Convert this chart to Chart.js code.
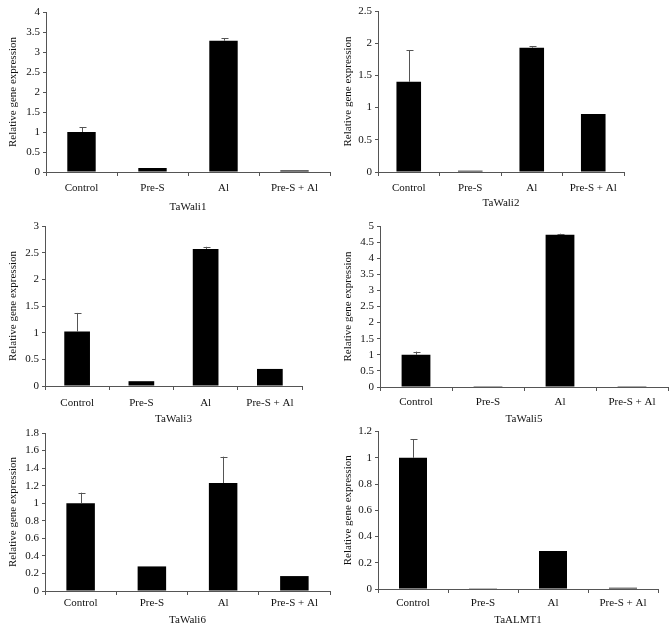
<!DOCTYPE html>
<html lang="en">
<head>
  <meta charset="UTF-8">
  <title>Relative gene expression</title>
  <script src="https://cdn.jsdelivr.net/npm/chart.js"></script>
  <style>
    body { margin: 0; background: #fff; }
    #wrap { position: relative; width: 671px; height: 630px; }
    .panel { position: absolute; }
  </style>
</head>
<body>
  <div id="wrap"></div>

  <script>
    const groups = ["Control", "Pre-S", "Al", "Pre-S + Al"];

    const wali1 = [1.0, 0.1, 3.28, 0.04];
    const wali1Err = [0.12, 0, 0.07, 0];
    const wali2 = [1.4, 0.02, 1.93, 0.9];
    const wali2Err = [0.49, 0, 0.02, 0];
    const wali3 = [1.02, 0.09, 2.57, 0.32];
    const wali3Err = [0.35, 0, 0.04, 0];
    const wali5 = [1.0, 0.005, 4.73, 0.005];
    const wali5Err = [0.1, 0, 0.03, 0];
    const wali6 = [1.0, 0.28, 1.23, 0.17];
    const wali6Err = [0.12, 0, 0.3, 0];
    const almt1 = [1.0, 0.005, 0.29, 0.01];
    const almt1Err = [0.14, 0, 0, 0];

    const serif = "'Liberation Serif', 'DejaVu Serif', serif";

    // draws the upward error bars from the y scale
    const errorBars = {
      id: 'errorBars',
      afterDatasetsDraw(chart) {
        const errs = chart.options.plugins.errorBars.errors;
        const y = chart.scales.y;
        const ctx = chart.ctx;
        const meta = chart.getDatasetMeta(0);
        ctx.save();
        ctx.strokeStyle = '#555';
        ctx.lineWidth = 1;
        meta.data.forEach((bar, i) => {
          if (!errs[i]) return;
          const v = chart.data.datasets[0].data[i];
          const top = y.getPixelForValue(v + errs[i]);
          const x = Math.round(bar.x) + 0.5;
          ctx.beginPath();
          ctx.moveTo(x, bar.y);
          ctx.lineTo(x, top);
          ctx.moveTo(x - 3, Math.round(top) + 0.5);
          ctx.lineTo(x + 4, Math.round(top) + 0.5);
          ctx.stroke();
        });
        ctx.restore();
      }
    };

    // box: canvas position/size, plot: plot area inside the canvas
    function makePanel(box, plot, title, values, errors, max, step) {
      const div = document.createElement('div');
      div.className = 'panel';
      div.style.left = box.x + 'px';
      div.style.top = box.y + 'px';
      div.style.width = box.w + 'px';
      div.style.height = box.h + 'px';
      const canvas = document.createElement('canvas');
      div.appendChild(canvas);
      document.getElementById('wrap').appendChild(div);

      new Chart(canvas, {
        type: 'bar',
        data: {
          labels: groups,
          datasets: [{
            data: values,
            backgroundColor: '#000',
            borderColor: '#000',
            barPercentage: 0.4,
            categoryPercentage: 1
          }]
        },
        options: {
          responsive: true,
          maintainAspectRatio: false,
          animation: false,
          layout: { padding: { top: plot.top, right: box.w - plot.right, left: 0, bottom: 0 } },
          plugins: {
            legend: { display: false },
            tooltip: { enabled: false },
            errorBars: { errors: errors }
          },
          scales: {
            x: {
              afterFit: s => { s.height = box.h - plot.bottom; },
              grid: { drawOnChartArea: false, color: '#555', tickLength: 4, offset: true },
              border: { color: '#555' },
              ticks: { color: '#111', font: { family: serif, size: 11 }, padding: plot.labelPad },
              title: { display: true, text: title, color: '#111', font: { family: serif, size: 11 }, padding: 0 }
            },
            y: {
              min: 0,
              max: max,
              afterFit: s => { s.width = plot.left; },
              grid: { drawOnChartArea: false, color: '#555', tickLength: 3 },
              border: { color: '#555' },
              ticks: {
                stepSize: step,
                autoSkip: false,
                color: '#111',
                font: { family: serif, size: 11 },
                padding: 3,
                callback: v => String(parseFloat(v.toFixed(2)))
              },
              title: { display: true, text: 'Relative gene expression', color: '#111', font: { family: serif, size: 11 }, padding: { top: 7, bottom: 0 } }
            }
          }
        },
        plugins: [errorBars]
      });
    }

    makePanel({ x: 0, y: 0, w: 335, h: 214 }, { left: 46, top: 12, right: 330, bottom: 172, labelPad: 6 }, 'TaWali1', wali1, wali1Err, 4, 0.5);
    makePanel({ x: 335, y: 0, w: 336, h: 210 }, { left: 43, top: 11, right: 289, bottom: 172, labelPad: 6 }, 'TaWali2', wali2, wali2Err, 2.5, 0.5);
    makePanel({ x: 0, y: 212, w: 335, h: 214 }, { left: 45, top: 14, right: 302, bottom: 174, labelPad: 7 }, 'TaWali3', wali3, wali3Err, 3, 0.5);
    makePanel({ x: 335, y: 212, w: 336, h: 214 }, { left: 45, top: 14, right: 333, bottom: 175, labelPad: 5 }, 'TaWali5', wali5, wali5Err, 5, 0.5);
    makePanel({ x: 0, y: 422, w: 335, h: 205 }, { left: 45, top: 11, right: 330, bottom: 169, labelPad: 2 }, 'TaWali6', wali6, wali6Err, 1.8, 0.2);
    makePanel({ x: 335, y: 422, w: 336, h: 205 }, { left: 43, top: 9, right: 323, bottom: 167, labelPad: 4 }, 'TaALMT1', almt1, almt1Err, 1.2, 0.2);
  </script>
</body>
</html>
